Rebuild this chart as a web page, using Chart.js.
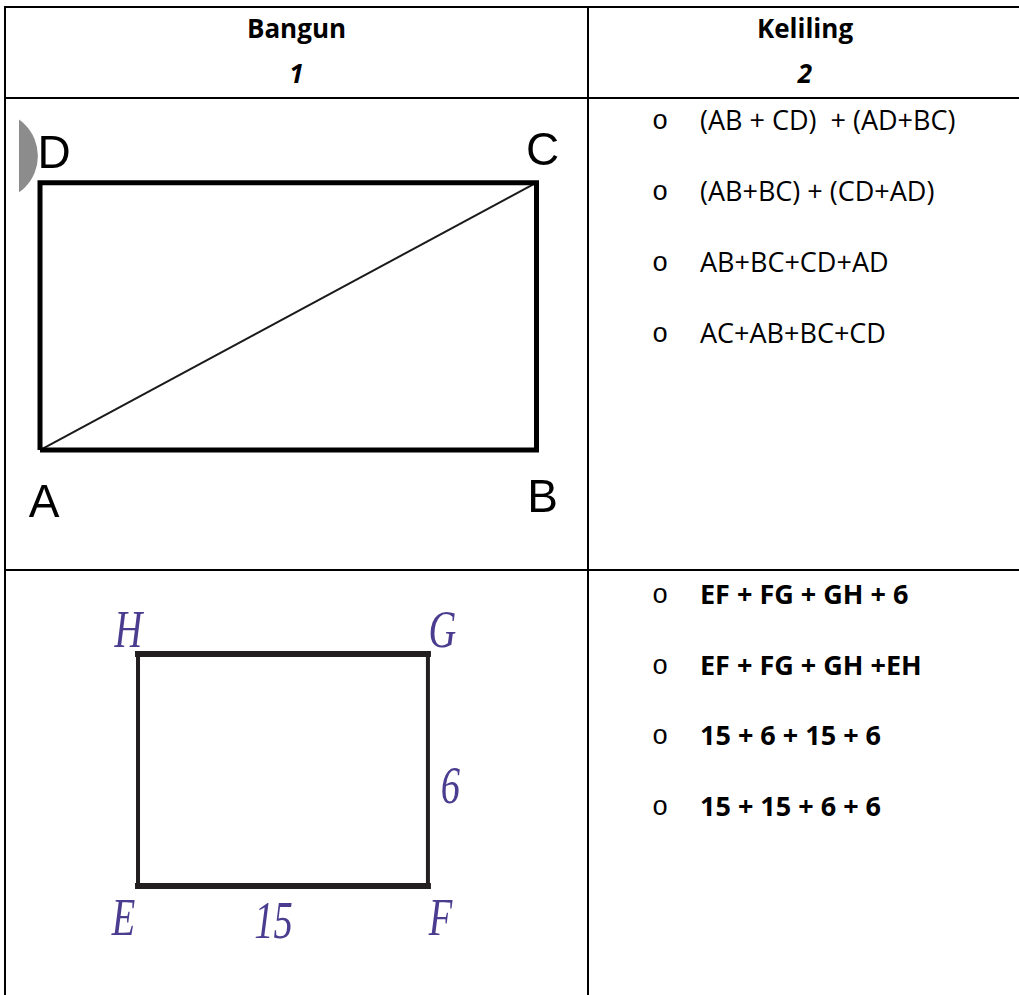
<!DOCTYPE html>
<html>
<head>
<meta charset="utf-8">
<script src="https://cdn.jsdelivr.net/npm/chart.js@4.4.1/dist/chart.umd.min.js"></script>
<style>
  html, body { margin: 0; padding: 0; background: #fff; }
  body { width: 1019px; height: 995px; overflow: hidden; position: relative; }
  .line { position: absolute; background: #000; }
  .t {
    position: absolute;
    font-family: "Open Sans", "Noto Sans", sans-serif;
    font-size: 27px;
    line-height: 27px;
    white-space: pre;
    color: #000;
  }
  .head { font-weight: 700; text-align: center; font-size: 26px; line-height: 26px; }
  .num { font-style: italic; }
  .bold { font-weight: 700; }
  .bullet { position: absolute; font-family: "Liberation Mono", monospace; font-size: 27px; line-height: 27px; color: #000; }
  canvas { position: absolute; }
</style>
</head>
<body>
<canvas id="figure1" width="566" height="468" style="left:19px; top:99px"></canvas>
<canvas id="figure2" width="581" height="424" style="left:6px; top:571px"></canvas>

<script>
// table texts
const headerTitles = ["Bangun", "Keliling"]
const headerNumbers = ["1", "2"]
const row1Options = ["(AB + CD)  + (AD+BC)", "(AB+BC) + (CD+AD)", "AB+BC+CD+AD", "AC+AB+BC+CD"]
const row2Options = ["EF + FG + GH + 6", "EF + FG + GH +EH", "15 + 6 + 15 + 6", "15 + 15 + 6 + 6"]

// figure 1: rectangle ABCD with diagonal AC (drawing units)
const rectLabels = ["A", "B", "C", "D"]
const rectX = [0, 13, 13, 0]
const rectY = [0, 0, 7, 7]
const markX = [-1.22]
const markY = [7.7]

// figure 2: rectangle EFGH, sides 15 and 6 (drawing units)
const boxLabels = ["E", "F", "G", "H"]
const boxX = [0, 15, 15, 0]
const boxY = [0, 0, 12, 12]
const sideLabels = ["15", "6"]

// ---- table layout ----
const lines = [
  [4, 6, 1017, 2],     // top
  [4, 6, 2, 989],      // left
  [587, 6, 2, 989],    // middle
  [1021, 6, 2, 989],   // right (off page)
  [4, 97, 1017, 2],    // under header
  [4, 569, 1017, 2]    // between rows
]
lines.forEach(([l, t, w, h]) => {
  const d = document.createElement("div")
  d.className = "line"
  d.style.cssText = `left:${l}px;top:${t}px;width:${w}px;height:${h}px`
  document.body.appendChild(d)
})

function addText(text, cls, left, baseline, width, asc) {
  const d = document.createElement("div")
  d.className = cls
  d.textContent = text
  d.style.left = left + "px"
  d.style.top = (baseline - asc) + "px"
  if (width) d.style.width = width + "px"
  document.body.appendChild(d)
}

const headCols = [[6, 581], [589, 432]]
headerTitles.forEach((txt, i) => addText(txt, "t head", headCols[i][0], 38, headCols[i][1], 23))
headerNumbers.forEach((txt, i) => addText(txt, "t head num", headCols[i][0], 83, headCols[i][1], 23))

function addOptions(list, cls, start, step) {
  list.forEach((txt, i) => {
    const base = start + i * step
    addText(txt, cls, 700, base, null, 24)
    const b = document.createElement("div")
    b.className = "bullet"
    b.textContent = "o"
    b.style.left = "652px"
    b.style.top = (base - 21) + "px"
    document.body.appendChild(b)
  })
}
addOptions(row1Options, "t", 130, 71)
addOptions(row2Options, "t bold", 604, 70.5)

// ---- figures ----
function labelPlugin(items, font, color, squeeze) {
  return {
    id: "figureLabels",
    afterDatasetsDraw(chart) {
      const { ctx, scales: { x, y } } = chart
      ctx.save()
      ctx.font = font
      ctx.fillStyle = color
      ctx.textAlign = "center"
      ctx.textBaseline = "alphabetic"
      items.forEach(it => {
        ctx.save()
        ctx.translate(x.getPixelForValue(it.x) + it.dx, y.getPixelForValue(it.y) + it.dy)
        ctx.scale(squeeze, 1)
        ctx.fillText(it.text, 0, 0)
        ctx.restore()
      })
      ctx.restore()
    }
  }
}

const hiddenScales = (xmin, xmax, ymin, ymax) => ({
  x: { type: "linear", display: false, min: xmin, max: xmax },
  y: { type: "linear", display: false, min: ymin, max: ymax }
})

const baseOptions = {
  responsive: false,
  animation: false,
  layout: { padding: 0, autoPadding: false },
  plugins: { legend: { display: false }, tooltip: { enabled: false } }
}

// figure 1
const rectPts = rectX.map((x, i) => ({ x, y: rectY[i] }))
const rectOffsets = [[4, 67], [6, 62], [6, -18], [14, -15]]
new Chart(document.getElementById("figure1"), {
  type: "scatter",
  data: {
    datasets: [
      {
        data: markX.map((x, i) => ({ x, y: markY[i] })),
        pointRadius: 44.5,
        backgroundColor: "#8c8c8c",
        borderWidth: 0,
        clip: false
      },
      {
        data: [...rectPts, rectPts[0]],
        showLine: true,
        borderColor: "#000",
        borderWidth: 5,
        borderJoinStyle: "miter",
        pointRadius: 0
      },
      {
        data: [rectPts[0], rectPts[2]],
        showLine: true,
        borderColor: "#1a1a1a",
        borderWidth: 2,
        pointRadius: 0
      }
    ]
  },
  options: { ...baseOptions, scales: hiddenScales(-0.55, 14.27, -3.06, 9.19) },
  plugins: [labelPlugin(
    rectLabels.map((text, i) => ({ text, x: rectX[i], y: rectY[i], dx: rectOffsets[i][0], dy: rectOffsets[i][1] })),
    "46px 'Liberation Sans', Arial, sans-serif", "#000", 1
  )]
})

// figure 2
const boxPts = boxX.map((x, i) => ({ x, y: boxY[i] }))
const edge = (i, j, w) => ({
  data: [boxPts[i], boxPts[j]],
  showLine: true,
  borderColor: "#231f20",
  borderWidth: w,
  borderCapStyle: "square",
  pointRadius: 0
})
const boxOffsets = [[-14.5, 49], [12.5, 49], [14.5, -7], [-9.5, -7]]
const sideOffsets = [[-9.5, 52], [22.5, 33]]
const sideMid = [[0, 1], [1, 2]].map(([i, j]) => ({ x: (boxX[i] + boxX[j]) / 2, y: (boxY[i] + boxY[j]) / 2 }))
new Chart(document.getElementById("figure2"), {
  type: "scatter",
  data: {
    datasets: [edge(1, 2, 4), edge(3, 0, 4), edge(0, 1, 6), edge(2, 3, 6)]
  },
  options: { ...baseOptions, scales: hiddenScales(-6.83, 23.23, -5.64, 16.3) },
  plugins: [labelPlugin(
    boxLabels.map((text, i) => ({ text, x: boxX[i], y: boxY[i], dx: boxOffsets[i][0], dy: boxOffsets[i][1] }))
      .concat(sideLabels.map((text, i) => ({ text, x: sideMid[i].x, y: sideMid[i].y, dx: sideOffsets[i][0], dy: sideOffsets[i][1] }))),
    "italic 52px 'Liberation Serif', 'Times New Roman', serif", "#4b3c8f", 0.74
  )]
})
</script>
</body>
</html>
